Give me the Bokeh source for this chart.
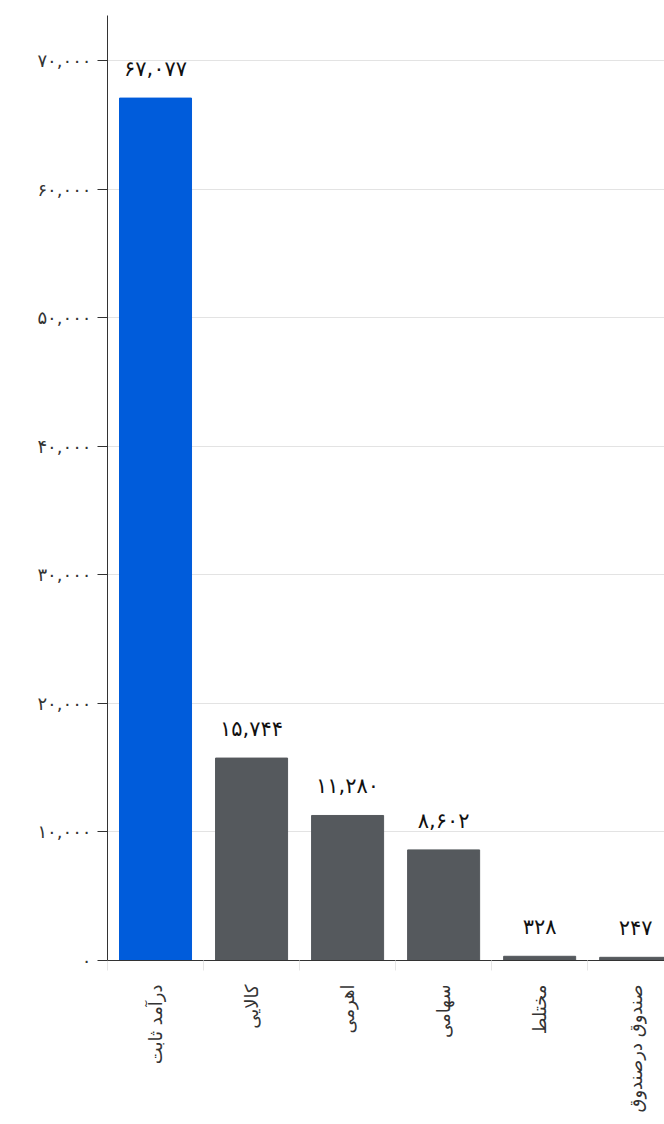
from bokeh.plotting import figure
from bokeh.models import Range1d, FixedTicker, ColumnDataSource
from bokeh.core.properties import value
from bokeh.embed import file_html
from bokeh.resources import INLINE

categories = ["درآمد ثابت", "کالایی", "اهرمی", "سهامی", "مختلط", "صندوق درصندوق"]
values = [67077, 15744, 11280, 8602, 328, 247]
colors = ["#005CDB", "#55595D", "#55595D", "#55595D", "#55595D", "#55595D"]
y_ticks = [0, 10000, 20000, 30000, 40000, 50000, 60000, 70000]

FA = str.maketrans("0123456789", "۰۱۲۳۴۵۶۷۸۹")
def fa(n):
    return f"{n:,}".translate(FA)

FONT = "DejaVu Sans"
centers = [i + 0.5 for i in range(len(categories))]

p = figure(width=664, height=1124, output_backend="svg", toolbar_location=None,
           x_range=Range1d(0, 5.8), y_range=Range1d(0, 73500),
           min_border_left=107, min_border_right=0, min_border_top=15, min_border_bottom=164)
p.outline_line_color = None
p.background_fill_color = "white"

src = ColumnDataSource(dict(x=centers, top=values, color=colors,
                            label=[fa(v) for v in values]))
p.vbar(x="x", top="top", width=0.75, bottom=0, color="color", source=src)
p.text(x="x", y="top", text="label", source=src, text_align="center",
       text_baseline="middle", y_offset=-29, text_font=value(FONT),
       text_font_size="21px", text_color="#111111")

# y axis
p.yaxis.ticker = FixedTicker(ticks=y_ticks, minor_ticks=[])
p.yaxis.major_label_overrides = {t: fa(t) for t in y_ticks}
p.yaxis.major_tick_out = 10
p.yaxis.major_tick_in = 0
p.yaxis.major_tick_line_color = "#333333"
p.yaxis.axis_line_color = "#333333"
p.yaxis.major_label_text_font = FONT
p.yaxis.major_label_text_font_size = "18px"
p.yaxis.major_label_text_color = "#333333"
p.yaxis.major_label_standoff = 6

# x axis
p.xaxis.ticker = FixedTicker(ticks=centers, minor_ticks=list(range(len(categories) + 1)))
p.xaxis.major_label_overrides = {c: cat for c, cat in zip(centers, categories)}
p.xaxis.major_label_orientation = 1.5708
p.xaxis.major_tick_line_color = None
p.xaxis.minor_tick_line_color = "#e6e6e6"
p.xaxis.minor_tick_out = 10
p.xaxis.minor_tick_in = 0
p.xaxis.axis_line_color = "#333333"
p.xaxis.major_label_text_font = FONT
p.xaxis.major_label_text_font_size = "18px"
p.xaxis.major_label_text_color = "#333333"
p.xaxis.major_label_standoff = 14

p.xgrid.grid_line_color = None
p.ygrid.grid_line_color = "#e3e3e3"
p.ygrid.ticker = FixedTicker(ticks=y_ticks)

open("out.html", "w").write(file_html(p, INLINE))
